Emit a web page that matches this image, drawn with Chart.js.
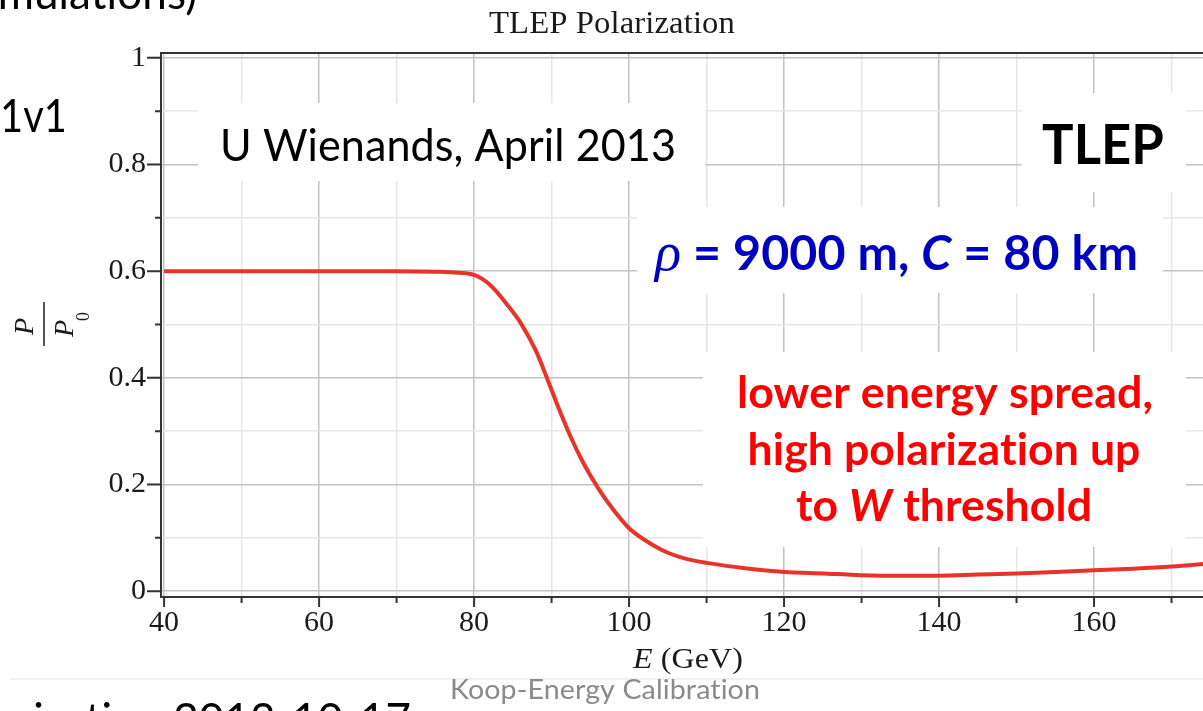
<!DOCTYPE html>
<html lang="en">
<head>
<meta charset="UTF-8">
<title>TLEP Polarization</title>
<script src="https://cdn.jsdelivr.net/npm/chart.js"></script>
<style>
  html, body { margin: 0; padding: 0; background: #fff; overflow: hidden; }
</style>
</head>
<body>
<canvas id="polChart" width="1203" height="711"></canvas>
<script>
// data
const energy = [40, 50, 60, 70, 75, 78, 80, 81, 82, 83, 84, 86, 88, 89.5, 91, 92.5, 94, 96, 98, 100, 103, 105, 107.5, 110, 115, 120, 125, 130, 135, 140, 145, 150, 155, 160, 165, 170, 175];
const polarization = [0.600, 0.600, 0.600, 0.600, 0.599, 0.597, 0.593, 0.586, 0.575, 0.560, 0.542, 0.503, 0.450, 0.396, 0.340, 0.288, 0.243, 0.193, 0.152, 0.118, 0.087, 0.072, 0.060, 0.053, 0.043, 0.036, 0.033, 0.030, 0.029, 0.029, 0.031, 0.033, 0.036, 0.039, 0.042, 0.046, 0.052];

const xTicks = [40, 50, 60, 70, 80, 90, 100, 110, 120, 130, 140, 150, 160, 170];
const xLabels = ['40', '', '60', '', '80', '', '100', '', '120', '', '140', '', '160', ''];
const yTicks = [0, 0.1, 0.2, 0.3, 0.4, 0.5, 0.6, 0.7, 0.8, 0.9, 1];
const yLabels = ['0', '', '0.2', '', '0.4', '', '0.6', '', '0.8', '', '1'];

const SERIF = "'Liberation Serif', serif";
const SANS = "Lato, 'Open Sans', sans-serif";

// white text boxes from the slide, they hide the grid
const whiteBoxes = [
  [198, 103, 705, 181],
  [1022, 93, 1186, 192],
  [637, 207, 1163, 293],
  [703, 352, 1186, 547]
];

// draw a row of styled pieces squeezed to a given width
function drawRuns(ctx, runs, x, baseline, width, size, align) {
  ctx.save();
  ctx.letterSpacing = '0.1px'; // no "ti" ligatures
  let total = 0;
  runs.forEach(r => {
    ctx.font = `${r.style || ''} ${r.size || size}px ${r.family}`;
    r.w = ctx.measureText(r.text).width;
    total += r.w;
  });
  const sx = width ? width / total : 1;
  const w = total * sx;
  const x0 = align === 'center' ? x - w / 2 : (align === 'right' ? x - w : x);
  ctx.translate(x0, baseline);
  ctx.scale(sx, 1);
  ctx.textAlign = 'left';
  ctx.textBaseline = 'alphabetic';
  let cx = 0;
  runs.forEach(r => {
    ctx.font = `${r.style || ''} ${r.size || size}px ${r.family}`;
    ctx.fillStyle = r.color;
    ctx.fillText(r.text, cx, 0);
    cx += r.w;
  });
  ctx.restore();
}

const decor = {
  id: 'decor',
  beforeDatasetsDraw(chart) {
    const ctx = chart.ctx;
    ctx.save();
    ctx.fillStyle = '#fff';
    whiteBoxes.forEach(b => ctx.fillRect(b[0], b[1], b[2] - b[0], b[3] - b[1]));
    ctx.restore();
  },
  afterDraw(chart) {
    const ctx = chart.ctx;
    const area = chart.chartArea;
    const xs = chart.scales.x, ys = chart.scales.y;

    // top frame + tick marks
    ctx.save();
    ctx.strokeStyle = '#333';
    ctx.lineWidth = 2;
    ctx.beginPath();
    ctx.moveTo(area.left - 1, area.top);
    ctx.lineTo(area.right, area.top);
    yTicks.forEach((v, i) => {
      const py = ys.getPixelForValue(v);
      const len = i % 2 === 0 ? 14 : 6;
      ctx.moveTo(area.left - len, py);
      ctx.lineTo(area.left, py);
    });
    xTicks.forEach((v, i) => {
      if (v > xs.max) return;
      const px = xs.getPixelForValue(v);
      const len = i % 2 === 0 ? 10 : 6;
      ctx.moveTo(px, area.bottom);
      ctx.lineTo(px, area.bottom + len);
    });
    ctx.stroke();
    ctx.restore();

    // title
    drawRuns(ctx, [{ text: 'TLEP Polarization', family: SERIF, color: '#1a1a1a' }], 612, 33, 246, 32, 'center');

    // x axis title
    drawRuns(ctx, [
      { text: 'E', style: 'italic', family: SERIF, color: '#1a1a1a' },
      { text: ' (GeV)', family: SERIF, color: '#1a1a1a' }
    ], 688, 668, 110, 29, 'center');

    // y axis title: P / P0, rotated
    ctx.save();
    ctx.translate(44, 324);
    ctx.rotate(-Math.PI / 2);
    ctx.fillStyle = '#1a1a1a';
    ctx.strokeStyle = '#1a1a1a';
    ctx.lineWidth = 1.5;
    ctx.font = `italic 28px ${SERIF}`;
    ctx.textBaseline = 'alphabetic';
    ctx.textAlign = 'left';
    ctx.fillText('P', -11, -11);
    ctx.fillText('P', -13, 29);
    ctx.font = `18px ${SERIF}`;
    ctx.fillText('0', 3, 45);
    ctx.beginPath();
    ctx.moveTo(-22, 0);
    ctx.lineTo(22, 0);
    ctx.stroke();
    ctx.restore();

    // slide annotations
    drawRuns(ctx, [{ text: 'U Wienands, April 2013', family: SANS, color: '#000' }], 220, 161, 456, 45, 'left');
    drawRuns(ctx, [{ text: 'TLEP', style: 'bold', family: SANS, color: '#000' }], 1042, 164, 122, 55, 'left');
    const blue = '#0000c0';
    drawRuns(ctx, [
      { text: 'ρ', style: 'italic', family: SERIF, color: blue, size: 54 },
      { text: ' = 9000 m, ', style: 'bold', family: SANS, color: blue },
      { text: 'C', style: 'italic bold', family: SANS, color: blue },
      { text: ' = 80 km', style: 'bold', family: SANS, color: blue }
    ], 655, 270, 483, 48, 'left');
    const red = '#ff0000';
    drawRuns(ctx, [{ text: 'lower energy spread,', style: 'bold', family: SANS, color: red }], 945, 408, 416, 44, 'center');
    drawRuns(ctx, [{ text: 'high polarization up', style: 'bold', family: SANS, color: red }], 944, 465, 393, 44, 'center');
    drawRuns(ctx, [
      { text: 'to ', style: 'bold', family: SANS, color: red },
      { text: 'W', style: 'italic bold', family: SANS, color: red },
      { text: ' threshold', style: 'bold', family: SANS, color: red }
    ], 944, 521, 296, 44, 'center');

    // bits of the surrounding slide
    drawRuns(ctx, [{ text: 'simulations)', family: SANS, color: '#000' }], 197, 9, null, 44, 'right');
    drawRuns(ctx, [{ text: '1v1', family: SANS, color: '#000' }], 0, 132, 67, 46, 'left');
    ctx.save();
    ctx.strokeStyle = '#f1f1f1';
    ctx.lineWidth = 2;
    ctx.beginPath();
    ctx.moveTo(10, 679);
    ctx.lineTo(1203, 679);
    ctx.stroke();
    ctx.restore();
    drawRuns(ctx, [{ text: 'Koop-Energy Calibration', family: SANS, color: '#8a8a8a' }], 450, 699, 310, 26, 'left');
    drawRuns(ctx, [{ text: 'Polarization 2013-10-17', family: SANS, color: '#000' }], 411, 735, null, 44, 'right');
  }
};

const gridColor = c => (c.index % 2 === 0 ? '#c2c2c2' : '#e6e6e6');

new Chart(document.getElementById('polChart').getContext('2d'), {
  type: 'line',
  data: {
    datasets: [{
      data: energy.map((e, i) => ({ x: e, y: polarization[i] })),
      borderColor: '#e8332b',
      borderWidth: 4,
      pointRadius: 0,
      cubicInterpolationMode: 'monotone',
      fill: false
    }]
  },
  options: {
    responsive: false,
    animation: false,
    layout: { padding: { top: 53, left: 0, right: 0, bottom: 0 } },
    plugins: {
      legend: { display: false },
      tooltip: { enabled: false }
    },
    scales: {
      x: {
        type: 'linear',
        min: 39.6,
        max: 174.06,
        afterBuildTicks: s => { s.ticks = xTicks.filter(v => v <= s.max).map(v => ({ value: v })); },
        afterFit: s => { s.height = 114; },
        ticks: {
          autoSkip: false,
          maxRotation: 0,
          padding: 8,
          color: '#1a1a1a',
          font: { family: SERIF, size: 30 },
          callback: (v, i) => xLabels[i]
        },
        grid: { color: gridColor, lineWidth: 1.5, drawTicks: false },
        border: { color: '#333', width: 2 }
      },
      y: {
        min: -0.011,
        max: 1.009,
        afterBuildTicks: s => { s.ticks = yTicks.map(v => ({ value: v })); },
        afterFit: s => { s.width = 161; },
        ticks: {
          autoSkip: false,
          padding: 15,
          color: '#1a1a1a',
          font: { family: SERIF, size: 30 },
          callback: (v, i) => yLabels[i]
        },
        grid: { color: gridColor, lineWidth: 1.5, drawTicks: false },
        border: { color: '#333', width: 2 }
      }
    }
  },
  plugins: [decor]
});
</script>
</body>
</html>
